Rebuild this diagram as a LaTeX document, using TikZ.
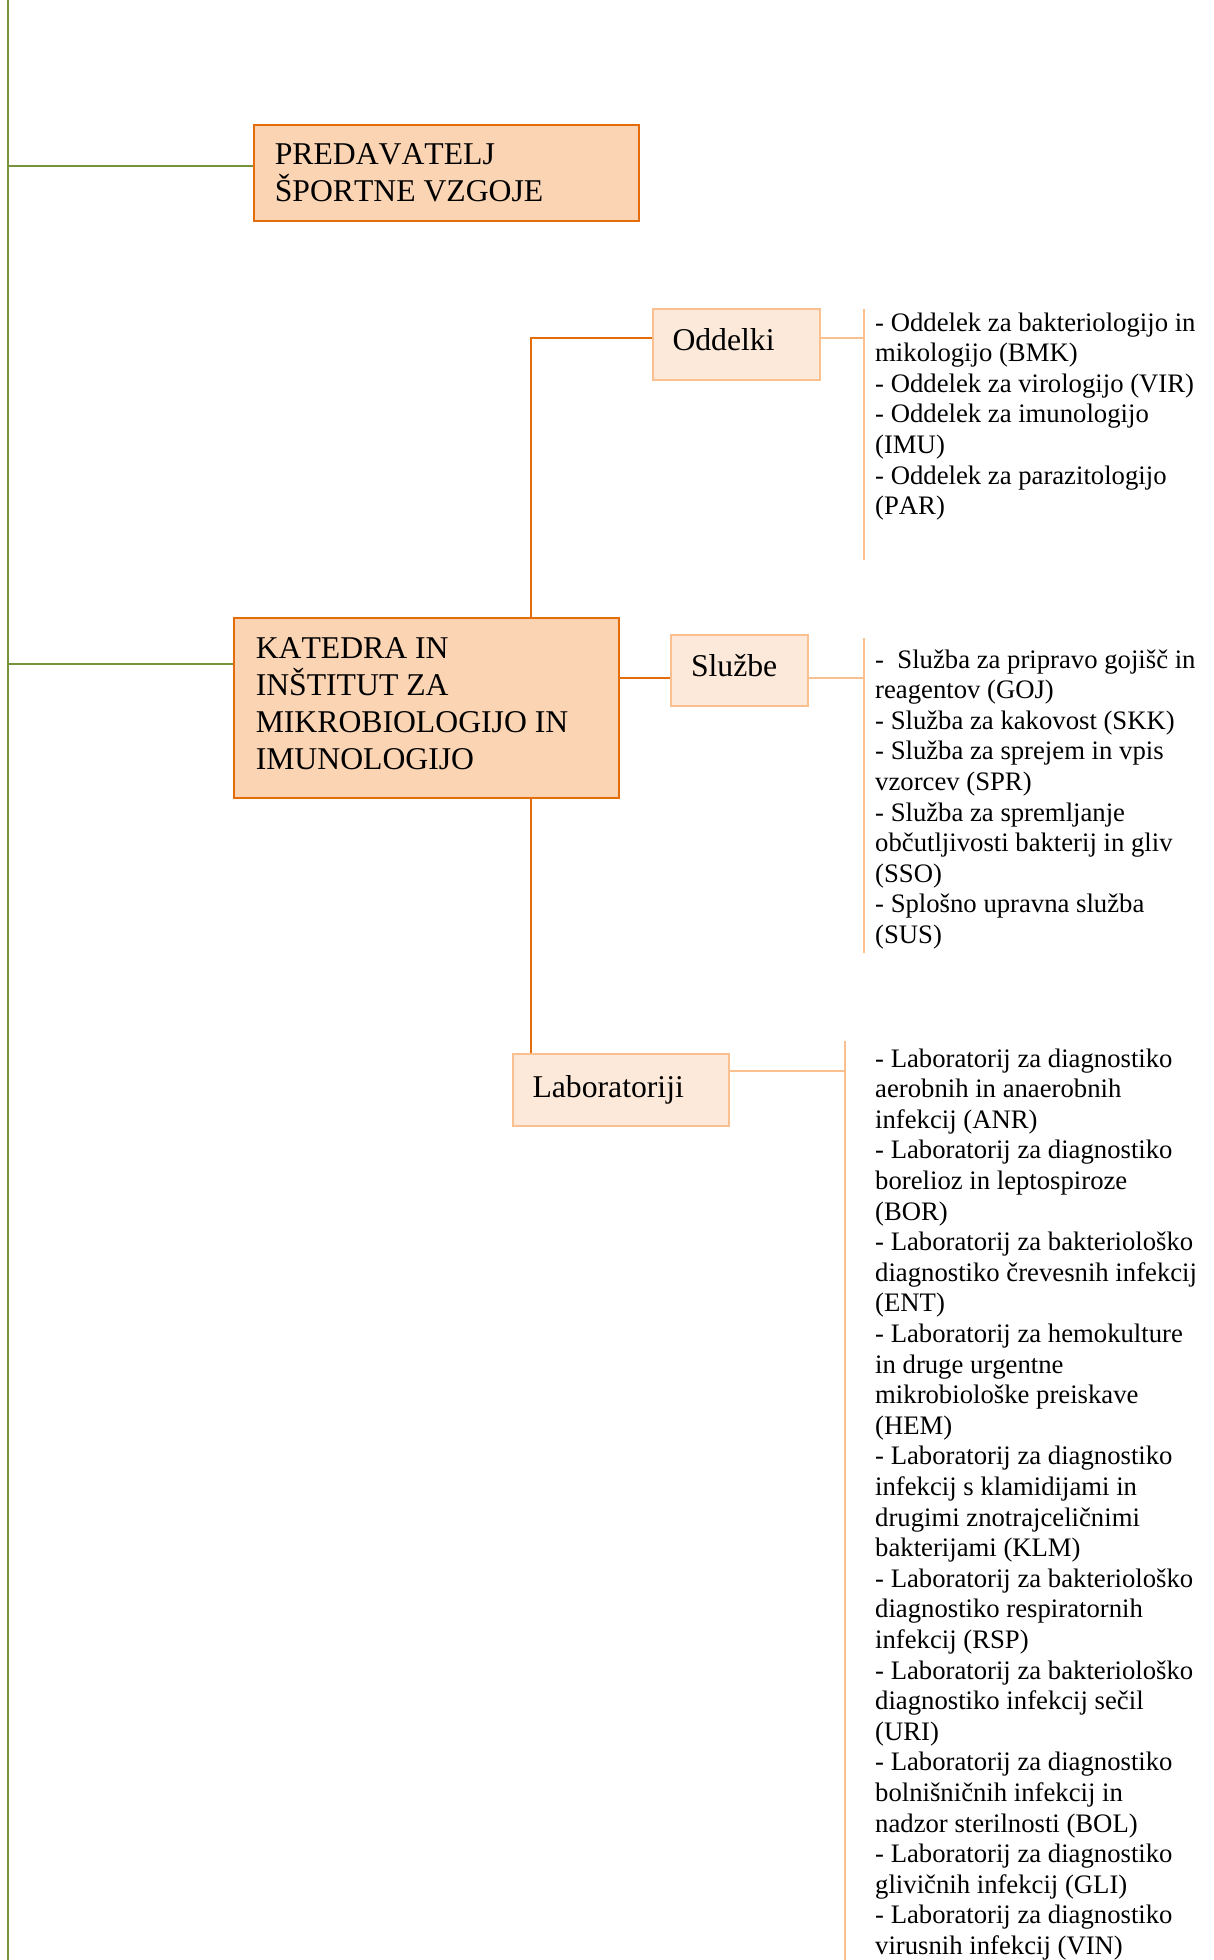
\documentclass[tikz,border=0pt]{standalone}
\usepackage{fontspec}
\setmainfont[Kerning=Off]{Liberation Serif}
\usetikzlibrary{positioning}
\definecolor{boxorange}{HTML}{E46C0A}
\definecolor{boxfill}{HTML}{FBD4B4}
\definecolor{lightfill}{HTML}{FDE9D9}
\definecolor{lightorange}{HTML}{FAC090}
\definecolor{trunkgreen}{HTML}{77933C}
\begin{document}
\begin{tikzpicture}[x=1pt,y=-1pt,
  mainbox/.style={draw=boxorange,fill=boxfill,line width=2pt,align=flush left,inner ysep=0pt,font=\fontsize{31.7}{37}\selectfont},
  subbox/.style={draw=lightorange,fill=lightfill,line width=2pt,align=flush left,inner xsep=20pt,inner ysep=0pt,text height=22pt,font=\fontsize{31.7}{37}\selectfont},
  listtext/.style={anchor=base west,align=flush left,text width=335pt,inner sep=0pt,font=\fontsize{26.7}{30.6}\selectfont},
  darkline/.style={draw=boxorange,line width=2pt},
  lightline/.style={draw=lightorange,line width=2pt},
  greenline/.style={draw=trunkgreen,line width=2pt}]
\useasboundingbox (0,0) rectangle (1214,1960);
\node[mainbox,inner xsep=21pt,text width=343pt,minimum height=96pt] (pred) at (446.25,173.1) {PREDAVATELJ\\ŠPORTNE VZGOJE};
\node[mainbox,inner xsep=22pt,text width=341pt,minimum height=180pt] (katedra) at (426.25,707.5) {KATEDRA IN\\INŠTITUT ZA\\MIKROBIOLOGIJO IN\\IMUNOLOGIJO\par\nointerlineskip\vskip8pt\hbox{}};
\node[subbox,text depth=9pt,text width=127.5pt,minimum height=71pt] (oddelki) at (736.25,344.4) {Oddelki};
\node[subbox,text depth=11pt,text width=96.5pt,minimum height=71pt] (sluzbe) at (739.25,670.5) {Službe};
\node[subbox,text depth=8pt,text width=176.5pt,minimum height=72pt] (labs) at (620.75,1090) {Laboratoriji};

\coordinate (gtop) at (7.5,0);
\coordinate (gbot) at (7.5,1960);
\coordinate (gpred) at (7.5,166);
\coordinate (gkat) at (7.5,664);
\draw[greenline] (gtop) -- (gbot);
\draw[greenline] (gpred) -- (gpred -| pred.west);
\draw[greenline] (gkat) -- (gkat -| katedra.west);

\coordinate (spine) at (531,337.5);
\coordinate (odjoin) at (864,337.5);
\coordinate (sjoin) at (864,677.5);
\coordinate (labjoin) at (845,1071);
\draw[darkline] (spine |- katedra.north) -- (spine) -- (spine -| oddelki.west);
\draw[darkline] (spine |- katedra.south) -- (spine |- labs.north);
\draw[darkline] (sjoin -| katedra.east) -- (sjoin -| sluzbe.west);
\draw[lightline] (odjoin -| oddelki.east) -- (odjoin);
\draw[lightline] (sjoin -| sluzbe.east) -- (sjoin);
\draw[lightline] (labjoin -| labs.east) -- (labjoin);

\coordinate (odtop) at (864,309);
\coordinate (odbot) at (864,560);
\coordinate (stop) at (864,637.5);
\coordinate (sbot) at (864,952.5);
\coordinate (labtop) at (845,1041);
\coordinate (labbot) at (845,1960);
\draw[lightline] (odtop) -- (odbot);
\draw[lightline] (stop) -- (sbot);
\draw[lightline] (labtop) -- (labbot);

\node[listtext] (odlist) at (875,331) {- Oddelek za bakteriologijo in\\mikologijo (BMK)\\- Oddelek za virologijo (VIR)\\- Oddelek za imunologijo\\(IMU)\\- Oddelek za parazitologijo\\(PAR)};
\node[listtext] (slist) at (875,668) {- \ Služba za pripravo gojišč in\\reagentov (GOJ)\\- Služba za kakovost (SKK)\\- Služba za sprejem in vpis\\vzorcev (SPR)\\- Služba za spremljanje\\občutljivosti bakterij in gliv\\(SSO)\\- Splošno upravna služba\\(SUS)};
\node[listtext] (lablist) at (875,1067) {- Laboratorij za diagnostiko\\aerobnih in anaerobnih\\infekcij (ANR)\\- Laboratorij za diagnostiko\\borelioz in leptospiroze\\(BOR)\\- Laboratorij za bakteriološko\\diagnostiko črevesnih infekcij\\(ENT)\\- Laboratorij za hemokulture\\in druge urgentne\\mikrobiološke preiskave\\(HEM)\\- Laboratorij za diagnostiko\\infekcij s klamidijami in\\drugimi znotrajceličnimi\\bakterijami (KLM)\\- Laboratorij za bakteriološko\\diagnostiko respiratornih\\infekcij (RSP)\\- Laboratorij za bakteriološko\\diagnostiko infekcij sečil\\(URI)\\- Laboratorij za diagnostiko\\bolnišničnih infekcij in\\nadzor sterilnosti (BOL)\\- Laboratorij za diagnostiko\\glivičnih infekcij (GLI)\\- Laboratorij za diagnostiko\\virusnih infekcij (VIN)};
\end{tikzpicture}
\end{document}
